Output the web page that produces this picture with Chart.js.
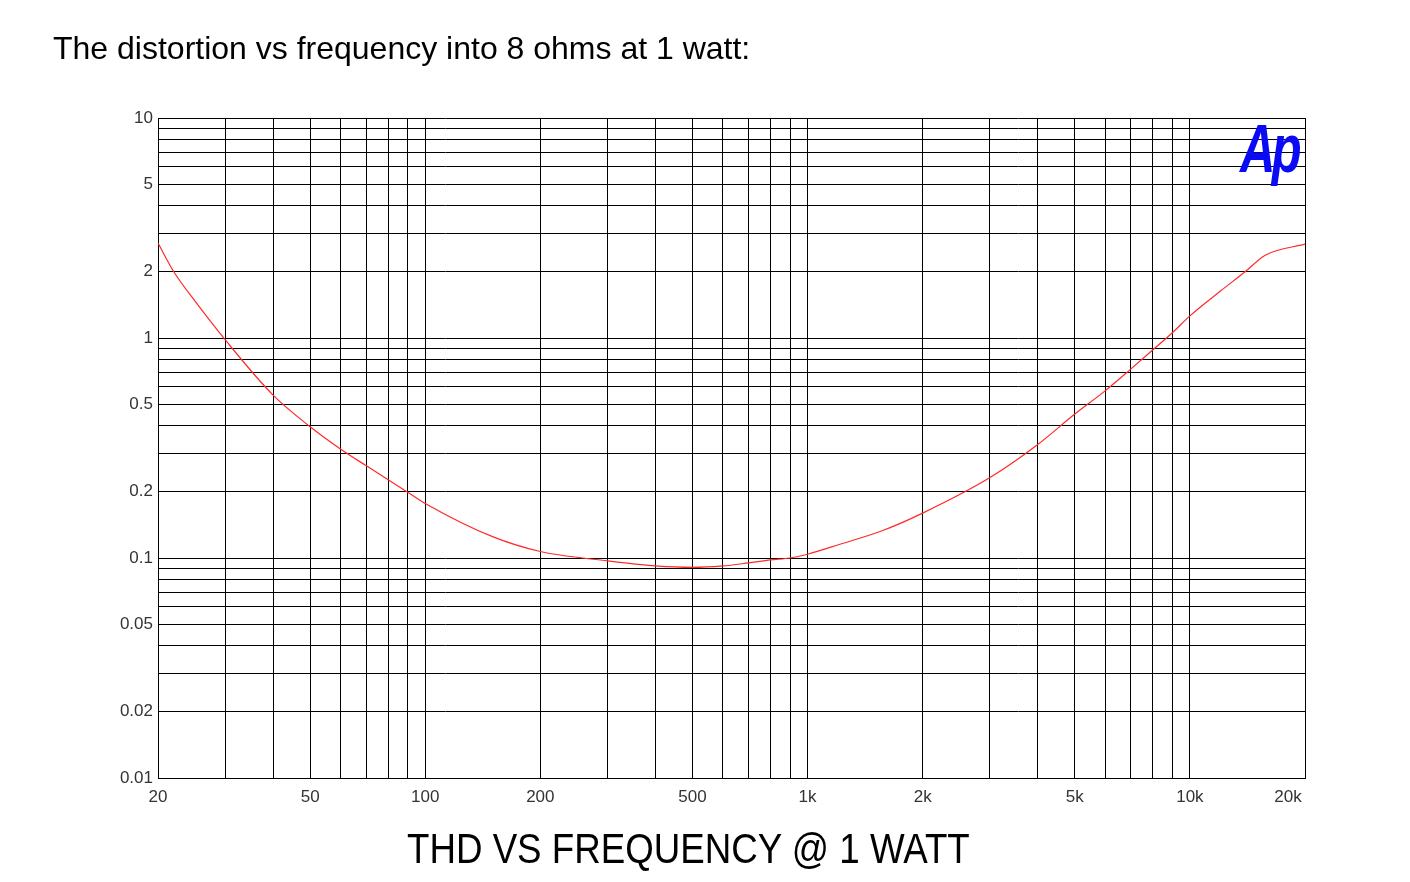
<!DOCTYPE html>
<html>
<head>
<meta charset="utf-8">
<script src="https://cdn.jsdelivr.net/npm/chart.js@4.4.0/dist/chart.umd.min.js"></script>
<style>
  html, body { margin:0; padding:0; background:#fff; width:1410px; height:882px; overflow:hidden; }
  #chart { position:absolute; left:0; top:0; }
  #heading { position:absolute; left:53px; top:30px; font-family:'Liberation Sans', Arial, sans-serif; font-size:32px; color:#000; white-space:nowrap; }
  #bottomTitle { position:absolute; left:407px; top:825px; font-family:'Liberation Sans', Arial, sans-serif; font-size:42px; color:#000; white-space:nowrap; transform:scaleX(0.874); transform-origin:left top; }
  #logo { position:absolute; left:1240px; top:109px; font-family:'Liberation Sans', Arial, sans-serif; font-size:68px; font-weight:bold; font-style:italic; color:#0a0af5; white-space:nowrap; letter-spacing:-5px; transform:scaleX(0.72); transform-origin:left top; }
</style>
</head>
<body>
<canvas id="chart" width="1410" height="882"></canvas>
<div id="heading">The distortion vs frequency into 8 ohms at 1 watt:</div>
<div id="bottomTitle">THD VS FREQUENCY @ 1 WATT</div>
<div id="logo">Ap</div>
<script>
// ---- data ----
const frequencies = [20, 22, 25, 30, 40, 50, 60, 70, 80, 90, 100, 150, 200, 300, 400, 500, 600, 700, 800, 900, 1000, 1216, 1566, 2000, 3000, 4000, 5000, 6000, 7000, 8000, 9000, 10000, 12000, 13940, 15740, 20000];
const thdPercent  = [2.70, 2.0, 1.47, 0.98, 0.55, 0.395, 0.313, 0.263, 0.227, 0.199, 0.177, 0.125, 0.107, 0.097, 0.092, 0.0906, 0.092, 0.095, 0.098, 0.100, 0.104, 0.1155, 0.133, 0.160, 0.232, 0.328, 0.451, 0.575, 0.722, 0.884, 1.057, 1.26, 1.63, 2.0, 2.38, 2.67];

// grid line positions
const xGridValues = [20, 30, 40, 50, 60, 70, 80, 90, 100, 200, 300, 400, 500, 600, 700, 800, 900, 1000, 2000, 3000, 4000, 5000, 6000, 7000, 8000, 9000, 10000, 20000];
const yGridValues = [0.01, 0.02, 0.03, 0.04, 0.05, 0.06, 0.07, 0.08, 0.09, 0.1, 0.2, 0.3, 0.4, 0.5, 0.6, 0.7, 0.8, 0.9, 1, 2, 3, 4, 5, 6, 7, 8, 9, 10];

// labelled ticks
const xLabelValues = [20, 50, 100, 200, 500, 1000, 2000, 5000, 10000, 20000];
const xLabelTexts  = ['20', '50', '100', '200', '500', '1k', '2k', '5k', '10k', '20k'];
const yLabelValues = [0.01, 0.02, 0.05, 0.1, 0.2, 0.5, 1, 2, 5, 10];
const yLabelTexts  = ['0.01', '0.02', '0.05', '0.1', '0.2', '0.5', '1', '2', '5', '10'];

const tickFont = { family: "'Liberation Sans', Arial, sans-serif", size: 17 };

function labelFor(values, texts, v) {
  for (let i = 0; i < values.length; i++) {
    if (Math.abs(values[i] - v) / values[i] < 1e-6) return texts[i];
  }
  return '';
}

new Chart(document.getElementById('chart'), {
  type: 'line',
  data: {
    datasets: [{
      data: frequencies.map((f, i) => ({ x: f, y: thdPercent[i] })),
      borderColor: '#ff2a2a',
      borderWidth: 1.2,
      pointRadius: 0,
      fill: false,
      cubicInterpolationMode: 'monotone'
    }]
  },
  options: {
    responsive: false,
    animation: false,
    layout: { padding: { left: 0, right: 105, top: 118, bottom: 74 } },
    plugins: { legend: { display: false }, tooltip: { enabled: false } },
    scales: {
      x: {
        type: 'logarithmic',
        min: 20, max: 20000,
        afterBuildTicks: (s) => { s.ticks = xGridValues.map(v => ({ value: v })); },
        afterFit: (s) => { s.height = 30; },
        grid: { color: '#000', lineWidth: 1, drawTicks: false },
        border: { display: true, color: '#000', width: 1 },
        ticks: {
          autoSkip: false, maxRotation: 0, minRotation: 0, padding: 9,
          color: '#333', font: tickFont,
          callback: (v, i, arr) => {
            const t = labelFor(xLabelValues, xLabelTexts, v);
            return (i === arr.length - 1 && t) ? t + '\u2002\u2002\u2002\u2002' : t;
          }
        }
      },
      y: {
        type: 'logarithmic',
        min: 0.01, max: 10,
        afterBuildTicks: (s) => { s.ticks = yGridValues.map(v => ({ value: v })); },
        afterFit: (s) => { s.width = 158; },
        grid: { color: '#000', lineWidth: 1, drawTicks: false },
        border: { display: true, color: '#000', width: 1 },
        ticks: {
          autoSkip: false, padding: 5,
          color: '#333', font: tickFont,
          callback: (v) => labelFor(yLabelValues, yLabelTexts, v)
        }
      }
    }
  }
});
</script>
</body>
</html>
